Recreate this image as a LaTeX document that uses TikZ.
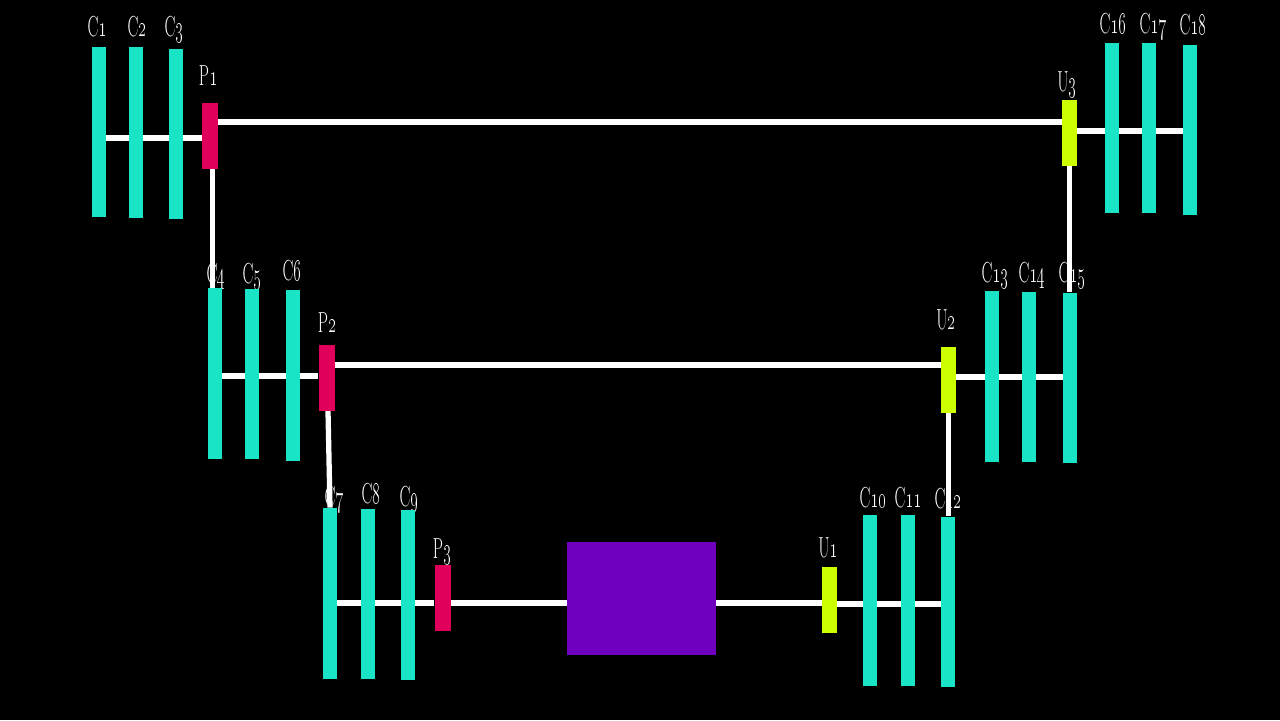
\documentclass[tikz,border=0pt]{standalone}
\usetikzlibrary{calc,backgrounds}
\definecolor{cbar}{RGB}{26,228,198}
\definecolor{pbar}{RGB}{224,0,92}
\definecolor{ubar}{RGB}{204,255,0}
\definecolor{boxc}{RGB}{112,0,192}
\begin{document}
\begin{tikzpicture}[x=0.02cm,y=-0.02cm,
  cb/.style={rectangle,fill=cbar,draw=none,inner sep=0pt,minimum width=0.28cm,minimum height=3.42cm},
  pb/.style={rectangle,fill=pbar,draw=none,inner sep=0pt,minimum width=0.32cm,minimum height=1.32cm},
  ub/.style={rectangle,fill=ubar,draw=none,inner sep=0pt,minimum width=0.3cm,minimum height=1.32cm},
  core/.style={rectangle,fill=boxc,draw=none,inner sep=0pt,minimum width=2.98cm,minimum height=2.26cm},
  wire/.style={draw=white,line width=3pt},
  lbl/.style={text=white,anchor=base,inner sep=0pt,font=\fontsize{16.5}{18}\selectfont,xscale=0.56}]
\useasboundingbox (0,0) rectangle (1280,720);
% bars
\node[cb] (C1) at (98.5,132) {};
\node[cb] (C2) at (136,132.5) {};
\node[cb] (C3) at (176,134) {};
\node[pb] (P1) at (210,136) {};
\node[cb] (C4) at (215,373.5) {};
\node[cb] (C5) at (251.5,374) {};
\node[cb] (C6) at (292.5,375.5) {};
\node[pb] (P2) at (326.5,377.5) {};
\node[cb] (C7) at (330,593.5) {};
\node[cb] (C8) at (368,594) {};
\node[cb] (C9) at (408,595) {};
\node[pb] (P3) at (442.5,597.5) {};
\node[core] (B) at (641.5,598.5) {};
\node[ub] (U1) at (829.5,600) {};
\node[cb] (C10) at (870,600.5) {};
\node[cb] (C11) at (908,600.5) {};
\node[cb] (C12) at (948,602) {};
\node[ub] (U2) at (948.5,380) {};
\node[cb] (C13) at (992,376.5) {};
\node[cb] (C14) at (1029,377) {};
\node[cb] (C15) at (1069.5,378) {};
\node[ub] (U3) at (1069.5,133) {};
\node[cb] (C16) at (1112,128) {};
\node[cb] (C17) at (1149,128) {};
\node[cb] (C18) at (1189.5,130) {};
\begin{scope}[on background layer]
\fill[black] (0,0) rectangle (1280,720);
% labels
\node[lbl] (lC1) at (97,36) {C\oldstylenums{1}};
\node[lbl] (lC2) at (137,36) {C\oldstylenums{2}};
\node[lbl] (lC3) at (174,36) {C\oldstylenums{3}};
\node[lbl] (lP1) at (208,85) {P\oldstylenums{1}};
\node[lbl] (lC4) at (216,283) {C\oldstylenums{4}};
\node[lbl] (lC5) at (252,283) {C\oldstylenums{5}};
\node[lbl] (lC6) at (292,280) {C\oldstylenums{6}};
\node[lbl] (lP2) at (327,332) {P\oldstylenums{2}};
\node[lbl] (lC7) at (334,506) {C\oldstylenums{7}};
\node[lbl] (lC8) at (371,503) {C\oldstylenums{8}};
\node[lbl] (lC9) at (409,506) {C\oldstylenums{9}};
\node[lbl] (lP3) at (442,558) {P\oldstylenums{3}};
\node[lbl] (lU1) at (828,557) {U\oldstylenums{1}};
\node[lbl] (lC10) at (873,507) {C\oldstylenums{10}};
\node[lbl] (lC11) at (908,507) {C\oldstylenums{11}};
\node[lbl] (lC12) at (948,508) {C\oldstylenums{12}};
\node[lbl] (lU2) at (946,329) {U\oldstylenums{2}};
\node[lbl] (lC13) at (995,282) {C\oldstylenums{13}};
\node[lbl] (lC14) at (1032,282) {C\oldstylenums{14}};
\node[lbl] (lC15) at (1072,282) {C\oldstylenums{15}};
\node[lbl] (lU3) at (1067,91) {U\oldstylenums{3}};
\node[lbl] (lC16) at (1113,33) {C\oldstylenums{16}};
\node[lbl] (lC17) at (1153,33) {C\oldstylenums{17}};
\node[lbl] (lC18) at (1193,34) {C\oldstylenums{18}};
% wires
\draw[wire] ($(C1.center|-P1.center)+(0,2)$) -- ($(P1.west)+(0,2)$);
\draw[wire] ($(P1.east)+(0,-14)$) coordinate (w1) -- (w1 -| U3.west);
\draw[wire] ($(P1.south)+(2.5,0)$) coordinate (w2) -- (w2 |- C4.north);
\draw[wire] ($(C4.center|-P2.center)+(0,-1.5)$) -- ($(P2.west)+(0,-1.5)$);
\draw[wire] ($(P2.east)+(0,-12.5)$) coordinate (w3) -- (w3 -| U2.west);
\draw[wire] ($(P2.south)+(1.5,0)$) -- (C7.north);
\draw[wire] ($(C7.center|-B.center)+(0,4.5)$) coordinate (w4) -- (w4 -| P3.west);
\draw[wire] (w4 -| P3.east) -- (w4 -| B.west);
\draw[wire] (w4 -| B.east) -- (w4 -| U1.west);
\draw[wire] ($(U1.east)+(0,4)$) coordinate (w5) -- (w5 -| C12.center);
\draw[wire] (U2.south) -- (U2.south |- C12.north);
\draw[wire] ($(U2.east)+(0,-3)$) coordinate (w6) -- (w6 -| C15.center);
\draw[wire] (U3.south) -- (U3.south |- C15.north);
\draw[wire] ($(U3.east)+(0,-2)$) coordinate (w7) -- (w7 -| C18.center);
\end{scope}
\end{tikzpicture}
\end{document}
